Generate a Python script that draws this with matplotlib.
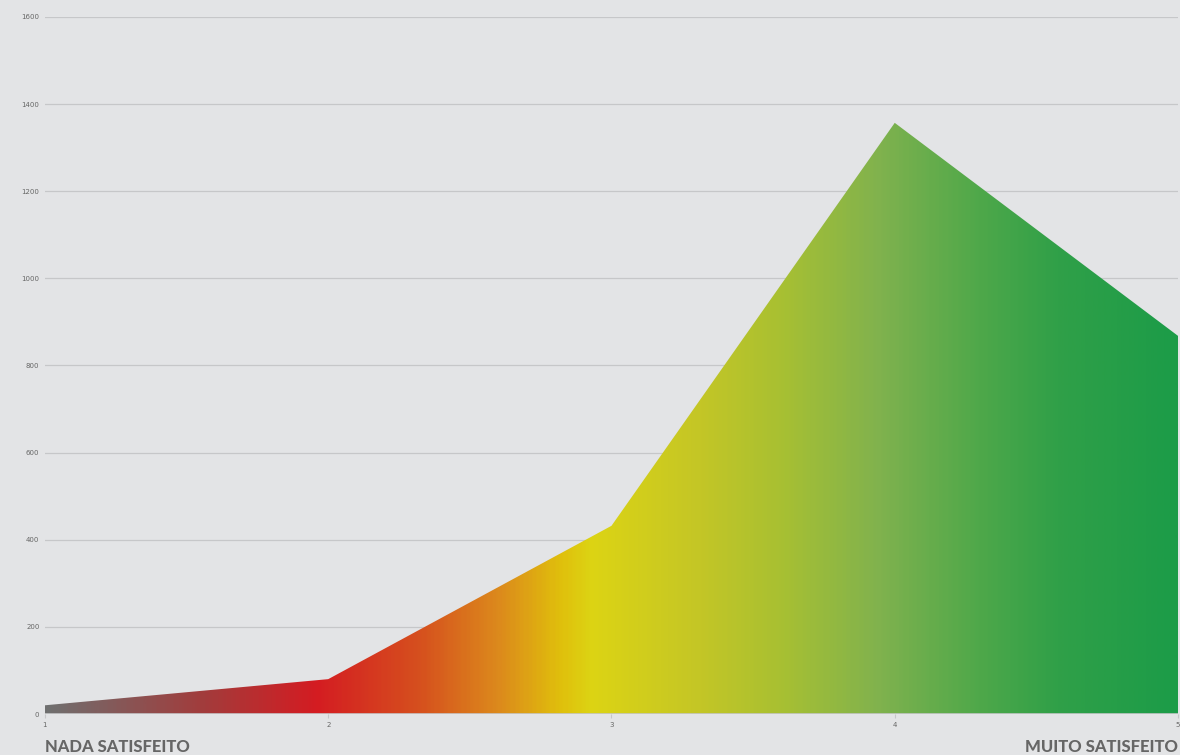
import numpy as np
import matplotlib.pyplot as plt
from matplotlib.colors import LinearSegmentedColormap
from matplotlib.patches import Polygon

# satisfaction score and number of answers
scores = [1, 2, 3, 4, 5]
answers = [20, 80, 432, 1357, 868]
y_ticks = [0, 200, 400, 600, 800, 1000, 1200, 1400, 1600]

# gradient colours along the x axis (position in score units)
grad_pos = [1.0, 1.55, 1.95, 2.32, 2.6, 2.82, 2.93, 3.31, 3.6, 3.95, 4.3, 4.58, 5.0]
grad_col = ['#6f6f6f', '#a23c3c', '#d41c22', '#d6501e', '#dc8a1c', '#e0c00c',
            '#dcd414', '#c4c626', '#a8c032', '#80b24e', '#4fa84a', '#30a048', '#1c9c48']

bg = '#e3e4e6'
fig = plt.figure(figsize=(11.8, 7.55), dpi=100, facecolor=bg)
ax = fig.add_axes([0.0381, 0.0543, 0.9602, 0.9232], facecolor=bg)

stops = [(p - grad_pos[0]) / (grad_pos[-1] - grad_pos[0]) for p in grad_pos]
cmap = LinearSegmentedColormap.from_list('sat', list(zip(stops, grad_col)))

ax.set_xlim(scores[0], scores[-1])
ax.set_ylim(0, 1600)

# grid
for t in y_ticks[1:]:
    ax.axhline(t, color='#c6c7c9', lw=0.9, zorder=0)

poly = Polygon(list(zip(scores, answers)) + [(scores[-1], 0), (scores[0], 0)],
               closed=True, facecolor='none', edgecolor='none')
ax.add_patch(poly)
grad = np.linspace(0, 1, 600).reshape(1, -1)
im = ax.imshow(grad, cmap=cmap, aspect='auto', extent=[scores[0], scores[-1], 0, 1600],
               origin='lower', zorder=2, interpolation='bilinear')
im.set_clip_path(poly)

for s in ax.spines.values():
    s.set_visible(False)
ax.axhline(0, color='#c6c7c9', lw=1.2, zorder=3)

ax.set_yticks(y_ticks)
ax.set_yticklabels([str(t) for t in y_ticks], fontsize=5, color='#666666')
ax.set_xticks(scores)
ax.set_xticklabels([str(s) for s in scores], fontsize=5, color='#666666')
ax.tick_params(axis='y', length=0, pad=4)
ax.tick_params(axis='x', length=3, color='#c6c7c9', pad=3)

fig.text(0.0381, 0.0, 'NADA SATISFEITO', fontsize=12, fontweight='black',
         family='Lato', color='#666666', ha='left', va='bottom')
fig.text(0.998, 0.0, 'MUITO SATISFEITO', fontsize=12, fontweight='black',
         family='Lato', color='#666666', ha='right', va='bottom')

fig.savefig('out.png', dpi=100, facecolor=bg)
